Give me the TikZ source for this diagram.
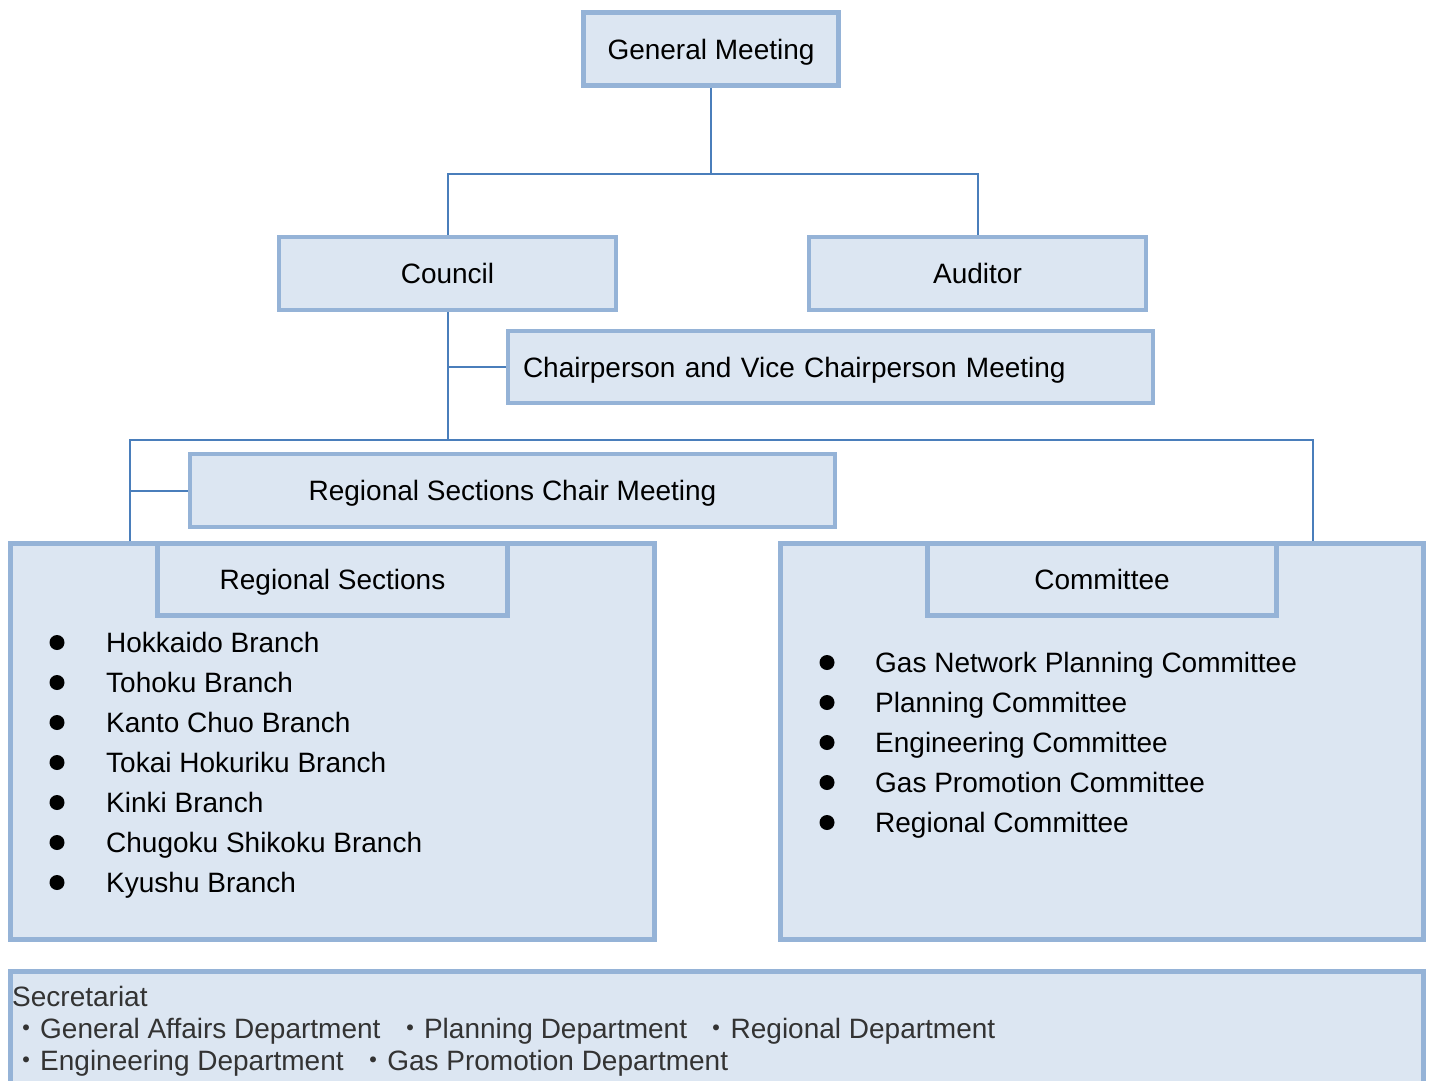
\documentclass[tikz,border=0pt]{standalone}
\usepackage{fontspec}
\setmainfont{Liberation Sans}
\newfontfamily\cjk{Noto Sans CJK JP}
\usepackage{tikz}
\definecolor{boxfill}{HTML}{DCE6F2}
\definecolor{boxline}{HTML}{95B3D7}
\definecolor{linkline}{HTML}{4A7EBB}
\definecolor{sectext}{HTML}{333333}

\begin{document}
\begin{tikzpicture}[x=1pt, y=-1pt, font=\fontsize{28pt}{33pt}\selectfont,
    unit/.style = {draw=boxline, fill=boxfill, line width=4.5pt, inner sep=0pt, minimum height=73pt, text height=22pt, text depth=2pt},
    group/.style = {draw=boxline, fill=boxfill, line width=4.5pt, inner sep=0pt},
    link/.style = {draw=linkline, line width=2pt},
    dot/.style = {circle, fill=black, inner sep=0pt, minimum size=15pt},
    item/.style = {anchor=base west, inner sep=0pt}]
    \useasboundingbox (0,0) rectangle (1434,1080);
    \clip (0,0) rectangle (1434,1080);

    \node[unit, minimum width=255pt] (gm) at (711,49) {General Meeting};
    \node[unit, minimum width=337pt] (council) at (447.5,273.5) {Council};
    \node[unit, minimum width=337pt] (auditor) at (977.5,273.5) {Auditor};
    \node[unit, minimum height=72pt, text width=615pt, inner xsep=15pt, align=left] (chair) at (830.5,367) {Chairperson and Vice Chairperson Meeting};
    \node[unit, minimum width=645pt] (rscm) at (512.5,490.5) {Regional Sections Chair Meeting};

    \node[group, minimum width=644pt, minimum height=396pt] (regions) at (332.5,741.5) {};
    \node[unit, minimum width=350pt, minimum height=72pt] (reghead) at (332.5,579.5) {Regional Sections};
    \node[group, minimum width=643pt, minimum height=396pt] (committees) at (1102,741.5) {};
    \node[unit, minimum width=349pt, minimum height=72pt] (comhead) at (1102,579.5) {Committee};
    \node[group, minimum width=1413pt, minimum height=127pt] (secretariat) at (717,1035) {};

    \foreach \name [count=\i] in {Hokkaido Branch, Tohoku Branch, Kanto Chuo Branch, Tokai Hokuriku Branch, Kinki Branch, Chugoku Shikoku Branch, Kyushu Branch} {
        \node[dot] (rdot\i) at (57,602.5+40*\i) {};
        \node[item] (ritem\i) at (106,612+40*\i) {\name};
    }
    \foreach \name [count=\i] in {Gas Network Planning Committee, Planning Committee, Engineering Committee, Gas Promotion Committee, Regional Committee} {
        \node[dot] (cdot\i) at (827,622.5+40*\i) {};
        \node[item] (citem\i) at (875,632+40*\i) {\name};
    }

    \node[item, text=sectext] (sectitle) at (12,1006) {Secretariat};
    \node[item, text=sectext] (secline1) at (12,1038) {{\cjk ・}General Affairs Department~~{\cjk ・}Planning Department~~{\cjk ・}Regional Department};
    \node[item, text=sectext] (secline2) at (12,1070) {{\cjk ・}Engineering Department~~{\cjk ・}Gas Promotion Department};

    % connectors
    \coordinate (bus) at (447.5,440);
    \coordinate (lft) at (130,440);
    \coordinate (rgt) at (1313,440);
    \draw[link] (gm.south) -- ++(0,86) coordinate (split);
    \draw[link] (council.north) |- (split) -| (auditor.north);
    \draw[link] (council.south) -- (bus);
    \draw[link] (council.south |- chair.west) -- (chair.west);
    \draw[link] (regions.north -| lft) -- (lft) -- (rgt) -- (committees.north -| rgt);
    \draw[link] (lft |- rscm.west) -- (rscm.west);
\end{tikzpicture}
\end{document}
